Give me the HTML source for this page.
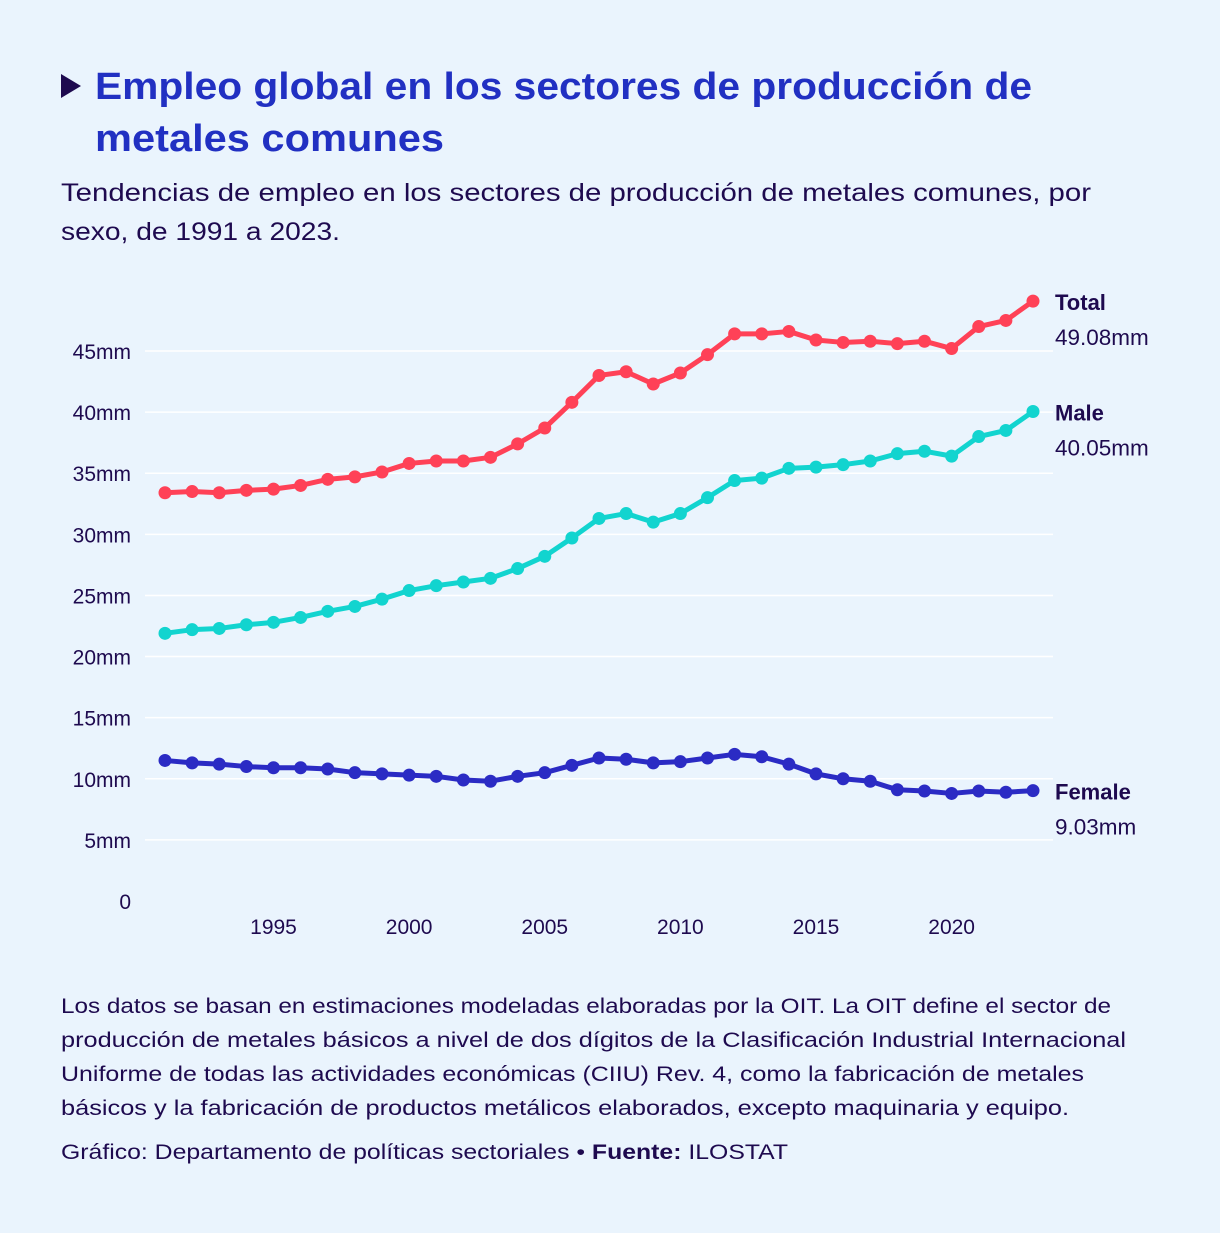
<!DOCTYPE html>
<html><head><meta charset="utf-8">
<style>
html,body{margin:0;padding:0;background:#eaf4fd;}
body{width:1220px;height:1228px;overflow:hidden;font-family:"Liberation Sans","DejaVu Sans",sans-serif;}
svg text{font-family:"Liberation Sans","DejaVu Sans",sans-serif;}
</style></head>
<body>
<svg id="chart" width="1220" height="1228" xmlns="http://www.w3.org/2000/svg">
<rect width="1220" height="1228" fill="#eaf4fd"/>
<polygon points="61,74 61,98 81,86" fill="#1e0a4f"/>
<text x="95" y="99" font-size="38" font-weight="bold" fill="#2130c2" textLength="937" lengthAdjust="spacingAndGlyphs">Empleo global en los sectores de producción de</text>
<text x="95" y="151" font-size="38" font-weight="bold" fill="#2130c2" textLength="349" lengthAdjust="spacingAndGlyphs">metales comunes</text>
<text x="61" y="201" font-size="25" fill="#1e0a4f" textLength="1030" lengthAdjust="spacingAndGlyphs">Tendencias de empleo en los sectores de producción de metales comunes, por</text>
<text x="61" y="240" font-size="25" fill="#1e0a4f" textLength="279" lengthAdjust="spacingAndGlyphs">sexo, de 1991 a 2023.</text>
<g id="grid"></g><g id="axes"></g><g id="series"></g><g id="labels"></g>
<text x="61" y="1013" font-size="21" fill="#1e0a4f" textLength="1050" lengthAdjust="spacingAndGlyphs">Los datos se basan en estimaciones modeladas elaboradas por la OIT. La OIT define el sector de</text>
<text x="61" y="1047" font-size="21" fill="#1e0a4f" textLength="1065" lengthAdjust="spacingAndGlyphs">producción de metales básicos a nivel de dos dígitos de la Clasificación Industrial Internacional</text>
<text x="61" y="1081" font-size="21" fill="#1e0a4f" textLength="1023" lengthAdjust="spacingAndGlyphs">Uniforme de todas las actividades económicas (CIIU) Rev. 4, como la fabricación de metales</text>
<text x="61" y="1115" font-size="21" fill="#1e0a4f" textLength="1008" lengthAdjust="spacingAndGlyphs">básicos y la fabricación de productos metálicos elaborados, excepto maquinaria y equipo.</text>
<text x="61" y="1159" font-size="21" fill="#1e0a4f" textLength="727" lengthAdjust="spacingAndGlyphs">Gráfico: Departamento de políticas sectoriales • <tspan font-weight="bold">Fuente:</tspan> ILOSTAT</text>
</svg>
<script>
const years=[1991,1992,1993,1994,1995,1996,1997,1998,1999,2000,2001,2002,2003,2004,2005,2006,2007,2008,2009,2010,2011,2012,2013,2014,2015,2016,2017,2018,2019,2020,2021,2022,2023];
const totalVals=[33.4,33.5,33.4,33.6,33.7,34.0,34.5,34.7,35.1,35.8,36.0,36.0,36.3,37.4,38.7,40.8,43.0,43.3,42.3,43.2,44.7,46.4,46.4,46.6,45.9,45.7,45.8,45.6,45.8,45.2,47.0,47.5,49.08];
const maleVals=[21.9,22.2,22.3,22.6,22.8,23.2,23.7,24.1,24.7,25.4,25.8,26.1,26.4,27.2,28.2,29.7,31.3,31.7,31.0,31.7,33.0,34.4,34.6,35.4,35.5,35.7,36.0,36.6,36.8,36.4,38.0,38.5,40.05];
const femaleVals=[11.5,11.3,11.2,11.0,10.9,10.9,10.8,10.5,10.4,10.3,10.2,9.9,9.8,10.2,10.5,11.1,11.7,11.6,11.3,11.4,11.7,12.0,11.8,11.2,10.4,10.0,9.8,9.1,9.0,8.8,9.0,8.9,9.03];
const yTicks=[0,5,10,15,20,25,30,35,40,45];
const xTicks=[1995,2000,2005,2010,2015,2020];
const NS="http://www.w3.org/2000/svg";
const x=v=>165+(v-1991)*(1033-165)/32;
const y=v=>901-v*550/45;
function mk(tag,attrs,parent){const e=document.createElementNS(NS,tag);for(const k in attrs)e.setAttribute(k,attrs[k]);document.getElementById(parent).appendChild(e);return e;}
yTicks.forEach(t=>{
  if(t>0){const l=mk('line',{x1:145,x2:1053,y1:y(t),y2:y(t),stroke:'#ffffff','stroke-width':1.5},'grid');
  
  }
  const tx=mk('text',{x:131,y:y(t)+8,'font-size':21,fill:'#1e0a4f','text-anchor':'end'},'axes');
  tx.textContent=t===0?'0':t+'mm';
  
  
});
xTicks.forEach(t=>{
  const tx=mk('text',{x:x(t),y:934,'font-size':21,fill:'#1e0a4f','text-anchor':'middle'},'axes');
  tx.textContent=t;
  
  
});
const series=[['total',totalVals,'#ff4157','Total','49.08mm'],['male',maleVals,'#12d4cf','Male','40.05mm'],['female',femaleVals,'#2b2bc4','Female','9.03mm']];
series.forEach(([nm,vals,col,lab,val])=>{
  const p=mk('polyline',{points:vals.map((v,i)=>x(years[i])+','+y(v)).join(' '),fill:'none',stroke:col,'stroke-width':5,'stroke-linejoin':'round'},'series');
  
  
  vals.forEach((v,i)=>{
    const c=mk('circle',{cx:x(years[i]),cy:y(v),r:6.5,fill:col},'series');
    
    
  });
  const last=vals[vals.length-1];
  const t1=mk('text',{x:1055,y:y(last)+9,'font-size':22,'font-weight':'bold',fill:'#1e0a4f'},'labels');
  t1.textContent=lab;
  
  
  const t2=mk('text',{x:1055,y:y(last)+44,'font-size':22.5,fill:'#1e0a4f'},'labels');
  t2.textContent=val;
  
  
});
</script>
</body></html>
